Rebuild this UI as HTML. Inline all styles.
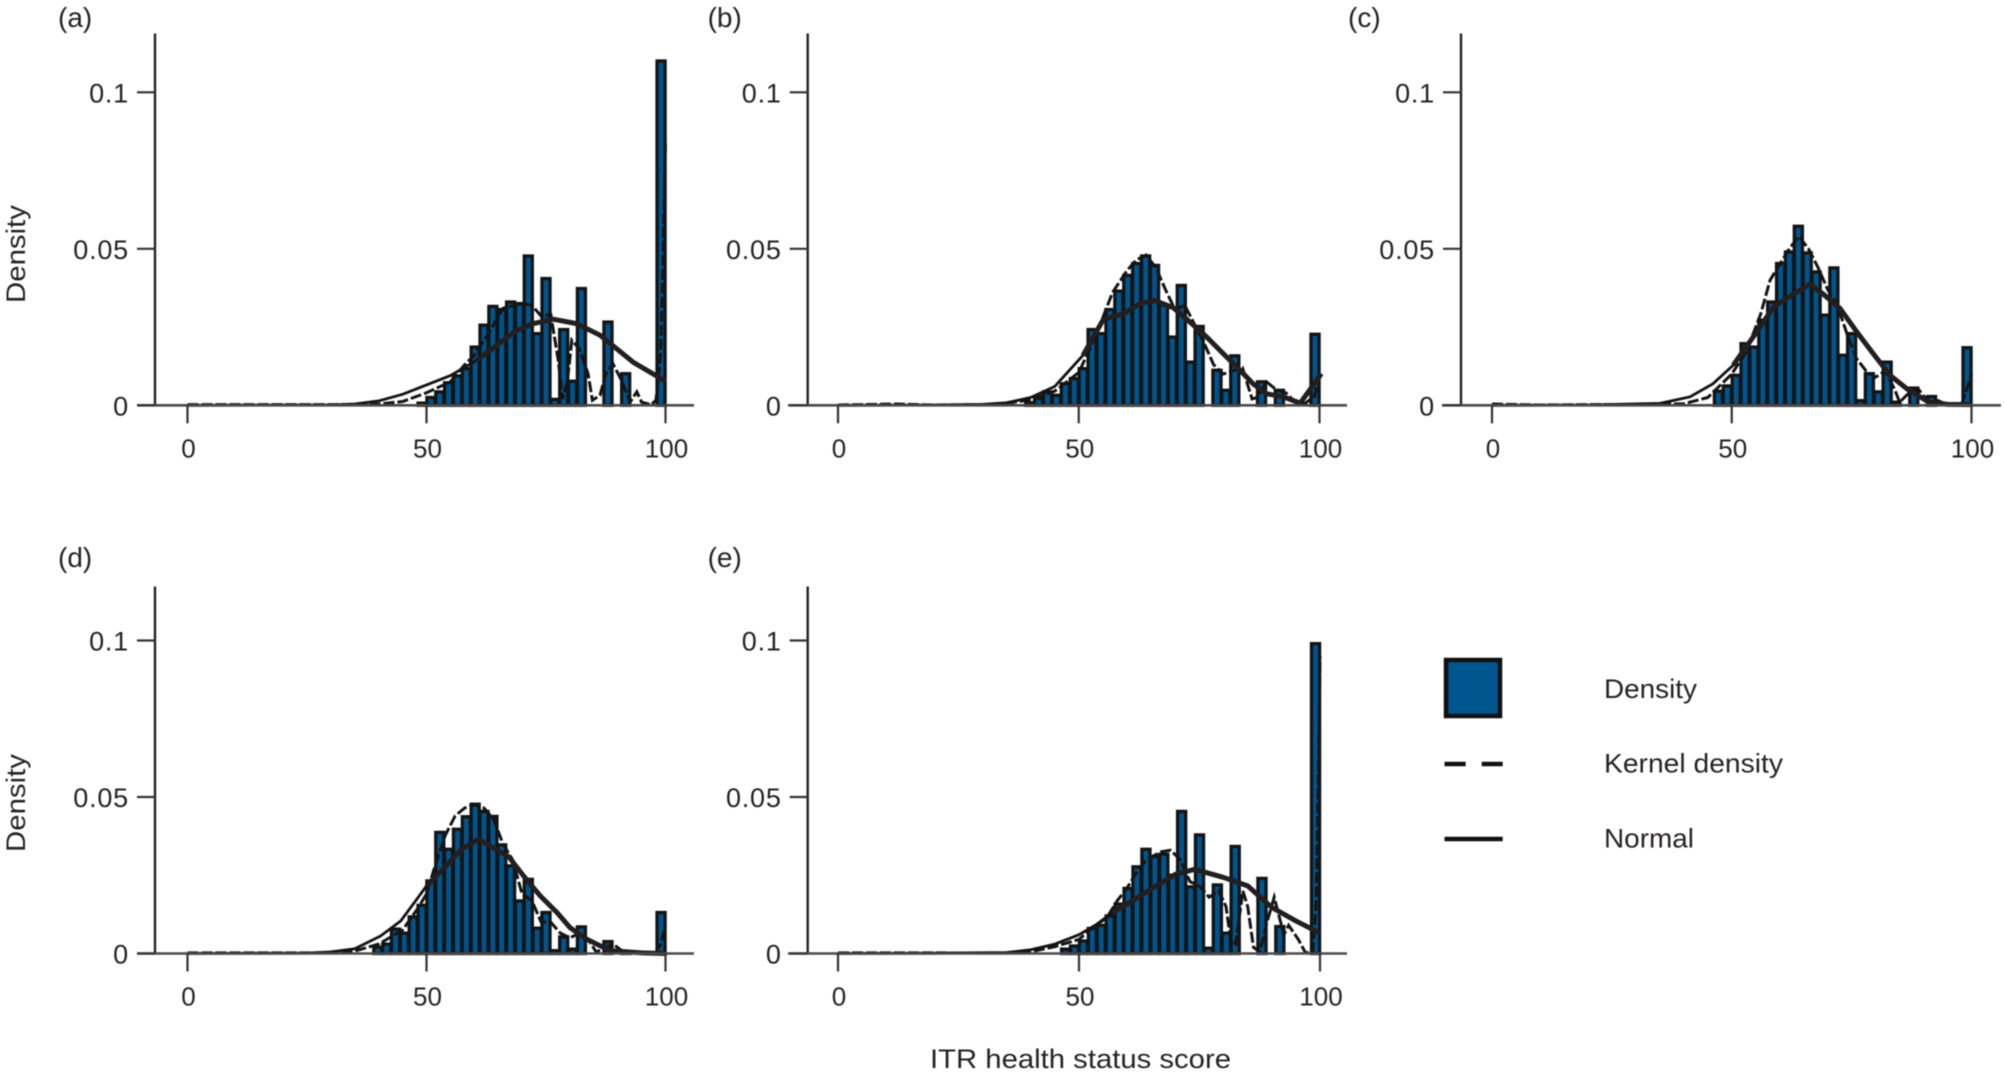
<!DOCTYPE html>
<html lang="en">
<head>
<meta charset="utf-8">
<title>ITR health status score density histograms</title>
<style>
html,body{margin:0;padding:0;background:#fff;width:2004px;height:1072px;overflow:hidden}
svg{display:block;filter:blur(0.6px)}
text{font-family:"Liberation Sans",sans-serif;fill:#262324}
</style>
</head>
<body>
<svg id="figure" xmlns="http://www.w3.org/2000/svg" width="2004" height="1072" viewBox="0 0 2004 1072">
  <rect x="0" y="0" width="2004" height="1072" fill="#fff"/>
  <text transform="translate(25,254) rotate(-90)" text-anchor="middle" font-size="27" textLength="98" lengthAdjust="spacingAndGlyphs">Density</text>
  <text transform="translate(25,803) rotate(-90)" text-anchor="middle" font-size="27" textLength="98" lengthAdjust="spacingAndGlyphs">Density</text>
  <text x="930" y="1068" font-size="27" textLength="301" lengthAdjust="spacingAndGlyphs">ITR health status score</text>
  <g>
    <rect x="1446" y="660" width="54" height="56" fill="#00558f" stroke="#111" stroke-width="4.5"/>
    <text x="1604" y="698" font-size="27" textLength="93" lengthAdjust="spacingAndGlyphs">Density</text>
    <line x1="1444.5" x2="1465.7" y1="764" y2="764" stroke="#111" stroke-width="4.5"/>
    <line x1="1481.7" x2="1502.7" y1="764" y2="764" stroke="#111" stroke-width="4.5"/>
    <text x="1604" y="772.7" font-size="27" textLength="179" lengthAdjust="spacingAndGlyphs">Kernel density</text>
    <line x1="1444.5" x2="1502.7" y1="839" y2="839" stroke="#111" stroke-width="4.5"/>
    <text x="1604" y="847.7" font-size="27" textLength="90" lengthAdjust="spacingAndGlyphs">Normal</text>
  </g>
</svg>
<script>
const panelLetters = ['a', 'b', 'c', 'd', 'e'];
const xTickValues = [0, 50, 100];
const xTickLabels = ['0', '50', '100'];
const yTickValues = [0, 0.05, 0.1];
const yTickLabels = ['0', '0.05', '0.1'];
const binCount = 54;

const densityA = [0,0,0,0,0,0,0,0,0,0,0,0,0,0,0,0,0,0,0,0,0,0,0,0,0,0,
  .0007,.0025,.0043,.0072,.0094,.0117,.0186,.0256,.0316,.0306,.0330,.0325,.0477,.0229,.0405,.0019,.0242,.0077,.0373,0,0,.0266,0,.0101,0,0,0,.11];
const densityB = [0,0,0,0,0,0,0,0,0,0,0,0,0,0,0,0,0,0,0,0,0,
  .0008,.0022,.0043,.0032,.0069,.0085,.0117,.0242,.0229,.0306,.0365,.0415,.0453,.0477,.0447,.0320,.0218,.0383,.0138,.0252,0,.0112,.0048,.0158,0,0,.0075,0,.0048,0,0,0,.0227];
const densityC = [0,0,0,0,0,0,0,0,0,0,0,0,0,0,0,0,0,0,0,0,0,0,0,0,0,
  .0045,.0062,.0096,.0197,.0186,.0272,.0330,.0453,.0490,.0572,.0487,.0426,.0288,.0439,.0160,.0229,.0015,.0101,.0043,.0138,.0010,0,.0055,0,.0028,0,0,0,.0184];
const densityD = [0,0,0,0,0,0,0,0,0,0,0,0,0,0,0,0,0,0,0,0,0,
  .0020,.0030,.0078,.0065,.0117,.0154,.0232,.0387,.0333,.0397,.0437,.0477,.0454,.0438,.0347,.0280,.0168,.0237,.0081,.0131,.0009,.0053,.0014,.0085,0,0,.0038,0,.0005,0,0,0,.0131];
const densityE = [0,0,0,0,0,0,0,0,0,0,0,0,0,0,0,0,0,0,0,0,0,0,0,0,0,
  .0014,.0024,.0040,.0080,.0090,.0120,.0158,.0208,.0277,.0333,.0310,.0317,.0250,.0454,.0213,.0379,.0017,.0219,.0065,.0342,0,0,.0240,0,.0086,0,0,0,.0990];

const normalScoresA = [0,20,30,35,40,45,50,55,60.5,64.7,68.6,72.4,76.5,81.4,86.3,93.2,100];
const normalValuesA = [0,.0001,.0001,.0004,.0014,.0035,.0065,.0095,.0144,.0192,.0237,.0261,.0275,.0261,.0224,.0138,.0077];
const normalScoresB = [0,20,30,35,40,45,50.9,55.1,59.3,62.7,65.8,69.6,73.1,76.6,80,83.5,86.2,89,92.5,96,100.4];
const normalValuesB = [0,.0001,.0003,.0008,.0025,.0060,.0160,.0274,.0293,.0325,.0335,.0312,.0266,.0218,.0165,.0112,.0069,.0037,.0027,.0007,.0101];
const normalScoresC = [0,20,35,41.3,46.1,50.3,55.2,58.7,62.1,66.3,69.1,72.6,76.1,79.5,83,86.5,91,95,100];
const normalValuesC = [0,.0001,.0006,.0027,.0069,.0128,.0234,.0314,.0348,.0387,.0355,.0309,.0234,.0165,.0096,.0053,.0011,.0003,.0002];
const normalScoresD = [0,20,25,30,35,40.4,44.6,48,50,53.8,57.3,60.9,67.2,70.3,73.8,77.3,80,83.5,88.4,95,100];
const normalValuesD = [0,.0001,.0001,.0005,.0015,.0056,.0104,.0174,.0216,.0275,.0333,.0365,.0309,.0248,.0184,.0131,.0083,.0046,.0009,.0002,0];
const normalScoresE = [0,20,35,40,45,50,55,57,60,65,70,74,80,85,90,95,100];
const normalValuesE = [0,.0001,.0003,.0012,.0030,.0060,.0105,.0131,.0158,.0206,.0253,.0269,.0243,.0216,.0147,.0104,.0065];

const kernelScoresA = [0,10,20,30,40,45,50,55,58,60,63,66,70,72,74,76,77.5,78.5,79.5,80.4,82,83.8,84.7,86.3,87.5,89,90.8,92.6,94,95,97,98,99,99.5,100];
const kernelValuesA = [.0002,.0002,.0002,.0002,.0004,.0012,.0040,.0075,.0130,.0160,.0230,.0310,.0325,.0320,.0285,.0290,.0150,.0020,.0080,.0208,.0180,.0101,.0016,.0032,.0100,.0133,.0080,.0010,.0043,.0010,.0002,.0016,.0165,.0485,.0850];
const kernelScoresB = [0,12,20,30,35,40,45,50,52,55,57,60,62,64,66,68,70,72,74,76,78,80,82,84,86,87,89,91,93,95,97,99,100];
const kernelValuesB = [.0001,.0004,.0001,.0002,.0006,.0018,.0045,.0105,.0170,.0280,.0360,.0430,.0465,.0480,.0440,.0370,.0305,.0320,.0260,.0200,.0130,.0100,.0110,.0120,.0020,.0025,.0075,.0050,.0040,.0010,.0006,.0030,.0100];
const kernelScoresC = [0,10,20,30,40,45,50,53,56,58,60,62,64,66,68,70,72,74,76,78,80,82,84,85,87,89,91,93,95,98,99,100];
const kernelValuesC = [.0004,.0001,.0002,.0002,.0005,.0025,.0100,.0170,.0290,.0400,.0450,.0500,.0540,.0500,.0440,.0370,.0320,.0230,.0150,.0110,.0090,.0110,.0050,.0010,.0040,.0050,.0010,.0015,.0002,.0006,.0050,.0100];
const kernelScoresD = [0,10,20,30,35,40,45,48,50,52,54,56,58,60,62,64,66,68,70,72,74,76,78,80,82,84,85.5,87,89,91,95,98,99,100];
const kernelValuesD = [.0002,.0002,.0002,.0002,.0008,.0030,.0075,.0140,.0190,.0290,.0380,.0440,.0465,.0475,.0465,.0430,.0350,.0300,.0190,.0170,.0100,.0100,.0065,.0050,.0065,.0040,.0005,.0015,.0030,.0008,.0002,.0003,.0030,.0090];
const kernelScoresE = [0,10,20,35,40,45,50,53,56,58,60,62,64,67,69,71,73,75,77,79,80.5,81.5,82.5,84,85,86.2,87.5,89,90.5,91.5,92.5,93.5,95.5,97,98.5,99.2,99.7,100];
const kernelValuesE = [.0002,.0002,.0002,.0001,.0006,.0022,.0045,.0085,.0120,.0170,.0210,.0260,.0300,.0325,.0330,.0300,.0230,.0215,.0180,.0200,.0150,.0040,.0030,.0200,.0150,.0020,.0005,.0100,.0180,.0120,.0060,.0090,.0045,.0002,.0005,.0160,.0600,.0950];

const panelConfigs = [
  {letter:'a', density:densityA, nx:normalScoresA, ny:normalValuesA, kx:kernelScoresA, ky:kernelValuesA, thick:60, x0:187.5, x100:665.5, axisX:155, lineL:137, lineR:694, base:405.3, top:33.5, labelX:58, labelY:27},
  {letter:'b', density:densityB, nx:normalScoresB, ny:normalValuesB, kx:kernelScoresB, ky:kernelValuesB, thick:50, x0:838, x100:1319.5, axisX:807.7, lineL:788, lineR:1347, base:405.3, top:33.5, labelX:707.6, labelY:27},
  {letter:'c', density:densityC, nx:normalScoresC, ny:normalValuesC, kx:kernelScoresC, ky:kernelValuesC, thick:50, x0:1492, x100:1971.5, axisX:1461, lineL:1442, lineR:2001, base:405.3, top:33.5, labelX:1348, labelY:27},
  {letter:'d', density:densityD, nx:normalScoresD, ny:normalValuesD, kx:kernelScoresD, ky:kernelValuesD, thick:50, x0:187.5, x100:665.5, axisX:155, lineL:137, lineR:694, base:953.5, top:586.5, labelX:58, labelY:567},
  {letter:'e', density:densityE, nx:normalScoresE, ny:normalValuesE, kx:kernelScoresE, ky:kernelValuesE, thick:57, x0:838, x100:1320, axisX:807.7, lineL:788, lineR:1347, base:953.5, top:586.5, labelX:707.6, labelY:567}
];

const SVG_NS = 'http://www.w3.org/2000/svg';
const figure = document.getElementById('figure');
const PX_PER_DENSITY = 3130;

function svgEl(tag, attrs, parent) {
  const node = document.createElementNS(SVG_NS, tag);
  for (const key in attrs) node.setAttribute(key, attrs[key]);
  parent.appendChild(node);
  return node;
}

function linePath(scores, values, xScale, yScale) {
  return scores.map(function (s, i) {
    return (i ? 'L' : 'M') + xScale(s).toFixed(2) + ' ' + yScale(values[i]).toFixed(2);
  }).join(' ');
}

panelConfigs.forEach(function (p) {
  const xScale = function (s) { return p.x0 + (p.x100 - p.x0) * s / 100; };
  const yScale = function (v) { return p.base - v * PX_PER_DENSITY; };

  const group = svgEl('g', {}, figure);
  
  

  const panelLabel = svgEl('text', {x: p.labelX, y: p.labelY, 'font-size': 28}, group);
  panelLabel.textContent = '(' + p.letter + ')';
  
  

  const binWidth = 100 / binCount;
  p.density.forEach(function (value, i) {
    if (value <= 0) return;
    const left = xScale(i * binWidth);
    const right = xScale((i + 1) * binWidth);
    const bar = svgEl('rect', {
      x: left + 0.4, y: yScale(value), width: right - left - 0.8, height: p.base - yScale(value),
      fill: '#00558f', stroke: '#141414', 'stroke-width': 3.3
    }, group);
    
    
  });

  const kernel = svgEl('path', {
    d: linePath(p.kx, p.ky, xScale, yScale), fill: 'none', stroke: '#141414',
    'stroke-width': 3, 'stroke-dasharray': '11 3'
  }, group);
  
  

  const normalThin = svgEl('path', {
    d: linePath(p.nx, p.ny, xScale, yScale), fill: 'none', stroke: '#141414', 'stroke-width': 2.8
  }, group);
  
  

  const thickScores = p.nx.filter(function (s) { return s >= p.thick; });
  const thickValues = p.ny.filter(function (v, i) { return p.nx[i] >= p.thick; });
  const normalThick = svgEl('path', {
    d: linePath(thickScores, thickValues, xScale, yScale), fill: 'none', stroke: '#231f20',
    'stroke-width': 5, 'stroke-linejoin': 'round'
  }, group);
  
  

  const yAxis = svgEl('line', {x1: p.axisX, x2: p.axisX, y1: p.top, y2: p.base, stroke: '#222', 'stroke-width': 2.4}, group);
  
  

  const xAxis = svgEl('line', {x1: p.lineL, x2: p.lineR, y1: p.base, y2: p.base, stroke: '#4a4a4a', 'stroke-width': 2.6}, group);
  
  

  xTickValues.forEach(function (tick, i) {
    const tickMark = svgEl('line', {x1: xScale(tick), x2: xScale(tick), y1: p.base, y2: p.base + 18, stroke: '#333', 'stroke-width': 2.2}, group);
    
    
    const tickLabel = svgEl('text', {x: xScale(tick) + 1, y: p.base + 52, 'font-size': 26, 'text-anchor': 'middle'}, group);
    tickLabel.textContent = xTickLabels[i];
    
    
  });

  yTickValues.forEach(function (tick, i) {
    const tickMark = svgEl('line', {x1: p.axisX - 18, x2: p.axisX, y1: yScale(tick), y2: yScale(tick), stroke: '#333', 'stroke-width': 2.2}, group);
    
    
    const tickLabel = svgEl('text', {x: p.axisX - 26, y: yScale(tick) + 10, 'font-size': 27, 'letter-spacing': 0.8, 'text-anchor': 'end'}, group);
    tickLabel.textContent = yTickLabels[i];
    
    
  });
});
</script>
</body>
</html>
